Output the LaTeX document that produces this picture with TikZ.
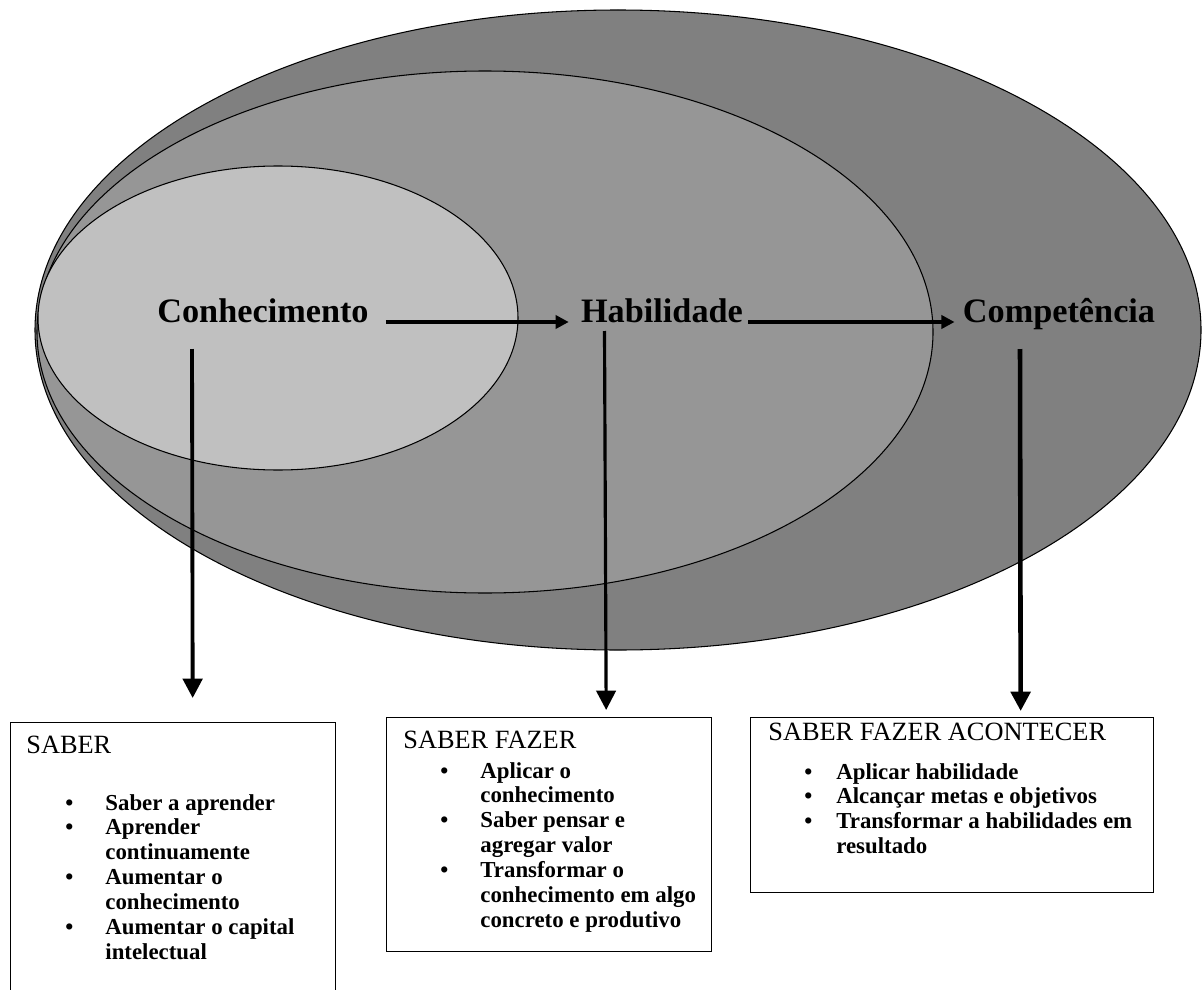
\documentclass[tikz,border=0pt]{standalone}
\usepackage{fontspec}
\setmainfont{Liberation Serif}
\usepackage{tikz}
\usetikzlibrary{arrows.meta, calc}
\definecolor{outercolor}{RGB}{128,128,128}
\definecolor{middlecolor}{RGB}{150,150,150}
\definecolor{innercolor}{RGB}{192,192,192}
\newcommand{\bul}{\textbullet &}
\tikzset{
  zone/.style={draw=black, line width=0.6pt, fill=#1},
  concept/.style={font=\fontsize{19.5}{22}\selectfont\bfseries, inner sep=0pt,
                  anchor=base},
  harrow/.style={-{Triangle[length=7.5pt,width=7.5pt]}, line width=2.2pt},
  varrow/.style={-{Triangle[length=11pt,width=11pt]}, line width=2.2pt},
  resbox/.style={draw, line width=0.8pt, fill=white, anchor=north west,
                 inner sep=0pt},
  boxtitle/.style={font=\fontsize{15}{17}\selectfont, inner sep=0pt,
                   anchor=base west},
  boxlist/.style={font=\fontsize{13}{14.2}\selectfont\bfseries, inner sep=0pt,
                  anchor=base west},
}

\begin{document}
\begin{tikzpicture}[x=0.02cm, y=-0.02cm]

  \clip (0,0) rectangle (1203,990);

  % --- Zones ---
  \draw[zone=outercolor]  (618,330) ellipse [x radius=583, y radius=320];
  \draw[zone=middlecolor] (485,332) ellipse [x radius=448, y radius=261];
  \draw[zone=innercolor]  (278,318) ellipse [x radius=240, y radius=152];

  % --- Concepts ---
  \node[concept] (conh) at (263,322) {Conhecimento};
  \node[concept] (hab)  at (662,322) {Habilidade};
  \node[concept] (comp) at (1059,322) {Competência};

  % --- Boxes ---
  \node[resbox, minimum width=6.5cm, minimum height=5.6cm]
    (saber) at (10,722) {};
  \node[resbox, minimum width=6.5cm, minimum height=4.68cm]
    (fazer) at (386,717) {};
  \node[resbox, minimum width=8.06cm, minimum height=3.5cm]
    (acont) at (750,717) {};

  \node[boxtitle] (sabertitle) at (26,753) {SABER};
  \node[boxlist] (saberlist) at (65,810)
    {\begin{tabular}[t]{@{}p{22.8pt}@{}l@{}}
       \bul Saber a aprender\\
       \bul Aprender\\
            & continuamente\\
       \bul Aumentar o\\
            & conhecimento\\
       \bul Aumentar o capital\\
            & intelectual
     \end{tabular}};

  \node[boxtitle] (fazertitle) at (403,748) {SABER FAZER};
  \node[boxlist] (fazerlist) at (440,778)
    {\begin{tabular}[t]{@{}p{22.8pt}@{}l@{}}
       \bul Aplicar o\\
            & conhecimento\\
       \bul Saber pensar e\\
            & agregar valor\\
       \bul Transformar o\\
            & conhecimento em algo\\
            & concreto e produtivo
     \end{tabular}};

  \node[boxtitle] (aconttitle) at (768,740) {SABER FAZER ACONTECER};
  \node[boxlist] (acontlist) at (804,779)
    {\begin{tabular}[t]{@{}p{18.2pt}@{}l@{}}
       \bul Aplicar habilidade\\
       \bul Alcançar metas e objetivos\\
       \bul Transformar a habilidades em\\
            & resultado
     \end{tabular}};

  % --- Arrows ---
  \draw[harrow] ($(conh.base east)+(17,0)$) -- ($(hab.base west)+(-12,0)$);
  \draw[harrow] ($(hab.base east)+(5,0)$) -- ($(comp.base west)+(-8,0)$);

  \draw[varrow] ($(conh.base)+(-71,27)$) -- ($(saber.north)+(19.5,-24)$);
  \draw[varrow, line width=1.8pt] ($(hab.base)+(-57.5,9)$)
    -- ($(fazer.north)+(57,-7)$);
  \draw[varrow, line width=2.6pt] ($(comp.base)+(-39,27)$)
    -- ($(acont.north)+(68.5,-6)$);

\end{tikzpicture}
\end{document}
